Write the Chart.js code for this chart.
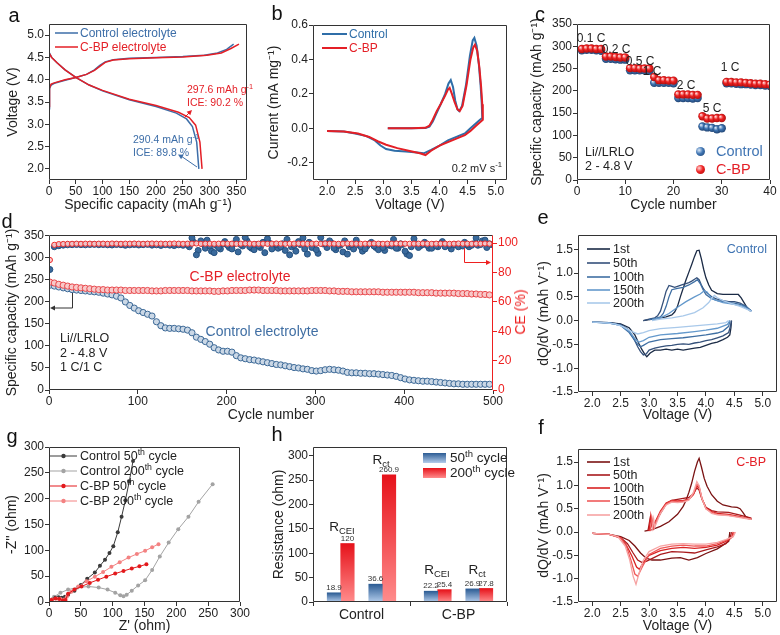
<!DOCTYPE html>
<html><head><meta charset="utf-8">
<script src="https://cdn.jsdelivr.net/npm/chart.js@4.4.1/dist/chart.umd.min.js"></script>
<style>
body{margin:0;background:#fff;}
#wrap{position:relative;width:780px;height:635px;overflow:hidden;font-family:"Liberation Sans",Arial,Helvetica,sans-serif;color:#222;background:#fff;}
#wrap canvas{position:absolute;}
.t{position:absolute;white-space:nowrap;line-height:1;}
.t sup{font-size:70%;vertical-align:0.55em;line-height:0;}
.t sub{font-size:70%;vertical-align:-0.3em;line-height:0;}
#ov{position:absolute;left:0;top:0;}
</style></head><body><div id="wrap"></div>
<script>
// ===================== DATA =====================
// (a) first charge/discharge profiles: capacity (mAh/g) vs voltage (V)
const aCtrlChX = [0,1,4,10,30,50,70,85,95,105,120,150,200,250,290,315,332,345];
const aCtrlChY = [3.35,3.8,3.88,3.92,3.99,4.05,4.12,4.22,4.32,4.4,4.45,4.48,4.5,4.52,4.55,4.6,4.68,4.8];
const aCbpChX  = [0,1,4,10,30,50,70,85,95,105,120,150,200,250,295,322,340,355];
const aCbpChY  = [3.4,3.82,3.9,3.93,4.0,4.05,4.12,4.21,4.3,4.39,4.44,4.47,4.49,4.51,4.55,4.6,4.7,4.8];
const aCtrlDisX = [0,5,15,30,50,75,100,150,200,238,257,268,276,280];
const aCtrlDisY = [4.62,4.5,4.38,4.22,4.05,3.88,3.75,3.55,3.4,3.25,3.12,2.95,2.6,2.0];
const aCbpDisX  = [0,5,15,30,50,75,100,150,200,242,262,274,282,286];
const aCbpDisY  = [4.6,4.5,4.38,4.22,4.05,3.88,3.76,3.56,3.42,3.27,3.15,2.98,2.6,2.0];
const aXTicks = [0,50,100,150,200,250,300,350];
const aYTicks = [2.0,2.5,3.0,3.5,4.0,4.5,5.0];

// (b) CV curves: voltage (V) vs current (mA/mg)
const bCtrlV = [3.08,3.5,3.75,3.82,3.88,3.95,4.02,4.1,4.16,4.2,4.24,4.28,4.32,4.35,4.4,4.47,4.54,4.59,4.62,4.66,4.7,4.73,4.75,4.76,4.72,4.65,4.55,4.45,4.3,4.15,4.0,3.85,3.72,3.6,3.4,3.2,3.05,2.95,2.85,2.7,2.5,2.3,2.0];
const bCtrlI = [0,0,0.002,0.01,0.04,0.09,0.14,0.2,0.26,0.28,0.24,0.16,0.11,0.1,0.13,0.25,0.42,0.51,0.525,0.48,0.37,0.25,0.15,0.06,0.05,0.03,0.0,-0.03,-0.05,-0.07,-0.1,-0.125,-0.145,-0.14,-0.135,-0.13,-0.12,-0.1,-0.07,-0.045,-0.03,-0.018,-0.015];
const bCbpV  = [3.08,3.5,3.75,3.82,3.88,3.95,4.02,4.1,4.15,4.18,4.22,4.27,4.32,4.36,4.41,4.48,4.55,4.6,4.63,4.67,4.71,4.74,4.76,4.77,4.72,4.65,4.55,4.45,4.3,4.15,4.0,3.85,3.75,3.65,3.45,3.25,3.05,2.9,2.75,2.55,2.3,2.0];
const bCbpI  = [0,0,0.003,0.015,0.05,0.1,0.14,0.19,0.225,0.235,0.2,0.15,0.11,0.1,0.13,0.25,0.4,0.47,0.485,0.45,0.35,0.24,0.14,0.05,0.035,0.015,-0.015,-0.04,-0.06,-0.08,-0.1,-0.13,-0.155,-0.145,-0.13,-0.115,-0.095,-0.075,-0.05,-0.03,-0.018,-0.015];
const bXTicks = [2.0,2.5,3.0,3.5,4.0,4.5,5.0];
const bYTicks = [-0.2,0.0,0.2,0.4,0.6];

// (c) rate capability, cycles 1..40 (mAh/g)
const cCtrl = [291,292,292,291,290, 272,272,271,270,270, 246,246,246,246,245, 218,218,218,218,217, 184,184,184,183,184, 120,118,117,114,116, 217,217,216,215,215,214,213,213,212,211];
const cCbp  = [294,295,295,294,294, 277,277,276,275,275, 251,251,250,250,250, 231,224,224,223,223, 192,192,192,191,191, 143,138,138,139,139, 220,220,219,219,218,217,216,216,215,214];
const cRates = ['0.1 C','0.2 C','0.5 C','1 C','2 C','5 C','1 C'];
const cXTicks = [0,10,20,30,40];
const cYTicks = [0,50,100,150,200,250,300,350];

// (d) long cycling, every 5th cycle (1, 6, 11, ... 496)
const dCtrlCap = [238,236,234,232,230,228,227,226,225,224, 223,222,220,218,216,213,209,200,192,186,
  180,176,172,168,155,146,141,140,140,139, 138,136,130,120,115,110,104,96,91,88,
  88,86,78,73,71,69,68,66,64,62, 60,58,57,55,53,51,50,48,47,44,
  43,44,46,47,46,45,43,40,39,39, 38,38,37,37,36,35,34,33,31,28,
  25,23,22,21,20,20,19,18,17,16, 15,14,14,13,13,13,13,13,13,13];
const dCbpCap = [245,243,240,238,236,234,233,232,231,230, 229,228,228,227,227,227,227,226,226,226,
  226,226,226,225,225,225,226,226,226,226, 226,226,225,225,225,225,225,224,224,225,
  225,226,226,226,226,227,227,227,226,226, 226,226,225,225,225,225,225,225,225,226,
  226,226,226,225,225,224,224,224,223,223, 223,223,223,223,223,222,222,222,222,222,
  222,222,222,221,221,221,221,220,220,220, 220,220,219,219,219,218,218,217,217,216];
const dCtrlCE = [82,97.5,98.2,98.6,98.8,98.9,99.0,98.9,98.8,99.0, 99.1,98.9,99.0,98.8,98.7,99.0,98.9,98.5,98.8,99.0,
  98.7,98.9,99.1,98.6,98.8,98.4,98.9,98.6,98.3,98.8, 98.5,
  99.0,103.5,92.0,101.5,96.5,98.0,93.5,97.0,99.5,98.5,
  96.0,102.5,99.0,103.8,97.5,95.5,98.0,100.5,103.0,96.0,
  99.0,97.5,95.0,92.0,98.5,101.0,103.5,92.5,97.0,95.5,
  103.8,99.5,101.5,96.5,98.5,94.0,92.5,99.0,102.0,97.5,
  96.0,99.5,98.0,95.5,97.0,99.0,98.0,96.5,99.5,94.5,
  91.5,103.0,97.0,99.0,98.5,96.5,98.0,99.5,97.5,98.5,
  99.0,97.5,98.0,99.0,98.5,103.5,99.0,102.0,99.5];
// extra Control CE readings in the noisy region (cycles 158, 163, ... 498)
const dCtrlCE2 = [97.5,100.5,95.0,99.5,102.0,94.5,98.5,96.0,101.0,97.0,
  99.5,94.0,98.0,101.5,96.5,99.0,97.0,93.5,100.0,98.5,
  96.5,99.5,102.5,97.5,94.5,99.0,96.0,100.5,98.0,93.0,
  99.5,97.0,100.0,95.5,98.5,101.5,97.5,96.0,99.0,94.5,
  98.0,100.5,97.0,99.0,95.0,98.5,102.5,96.5,99.0,92.5,
  97.5,99.5,98.0,100.5,96.5,99.0,97.5,101.0,98.5,96.0,
  99.0,98.0,100.5,97.5,99.5,98.5,101.5,97.0,99.0];
const dCbpCE = [88.5,98.8,99.3,99.4,99.5,99.5,99.6,99.5,99.6,99.6, 99.5,99.6,99.6,99.5,99.7,99.6,99.5,99.6,99.6,99.7,
  99.6,99.5,99.6,99.7,99.6,99.6,99.5,99.6,99.7,99.6, 99.5,99.6,99.6,99.7,99.5,99.6,99.6,99.5,99.6,99.7,
  99.6,99.6,99.5,99.6,99.7,99.6,99.5,99.6,99.6,99.5, 99.6,99.7,99.6,99.5,99.6,99.6,99.7,99.6,99.5,99.6,
  99.6,99.5,99.7,99.6,99.6,99.5,99.6,99.7,99.6,99.6, 99.5,99.6,99.6,99.7,99.6,99.5,99.6,99.6,99.7,99.6,
  99.6,99.5,99.6,99.6,99.7,99.6,99.5,99.6,99.6,99.6, 99.5,99.6,99.7,99.6,99.6,99.5,99.6,99.6,99.7,99.6];
const dXTicks = [0,100,200,300,400,500];
const dYTicks = [0,50,100,150,200,250,300,350];
const dY2Ticks = [0,20,40,60,80,100];

// (e) dQ/dV, Control (charge branch, gap, discharge branch)
const e1V = [2.9,3.0,3.1,3.2,3.3,3.4,3.45,3.5,3.55,3.6,3.65,3.7,3.75,3.8,3.84,3.88,3.92,3.96,4.0,4.05,4.1,4.2,4.3,4.4,4.5,4.57,4.62,4.67,4.72,4.78, null,
  4.45,4.44,4.42,4.38,4.3,4.2,4.1,4.0,3.9,3.8,3.7,3.6,3.5,3.4,3.3,3.2,3.1,3.02,2.96,2.92,2.87,2.82,2.75,2.65,2.5,2.3,2.0];
const e1Q = [0.0,0.02,0.03,0.06,0.08,0.12,0.18,0.3,0.5,0.68,0.86,1.02,1.18,1.35,1.47,1.48,1.3,1.08,0.9,0.75,0.64,0.57,0.55,0.55,0.55,0.55,0.48,0.38,0.28,0.2, null,
  0.0,-0.15,-0.3,-0.35,-0.4,-0.45,-0.48,-0.52,-0.56,-0.58,-0.6,-0.62,-0.6,-0.62,-0.6,-0.62,-0.62,-0.68,-0.76,-0.7,-0.6,-0.48,-0.3,-0.15,-0.07,-0.04,-0.03];
const e50V = [2.9,3.0,3.1,3.15,3.2,3.25,3.3,3.35,3.4,3.45,3.5,3.55,3.6,3.65,3.7,3.75,3.8,3.84,3.88,3.92,3.96,4.0,4.1,4.2,4.3,4.4,4.5,4.6,4.7,4.8, null,
  4.45,4.43,4.4,4.3,4.2,4.1,4.0,3.9,3.8,3.7,3.6,3.5,3.4,3.3,3.2,3.1,3.0,2.95,2.9,2.85,2.8,2.72,2.62,2.5,2.3,2.0];
const e50Q = [0.0,0.03,0.06,0.1,0.2,0.4,0.62,0.74,0.72,0.7,0.72,0.74,0.76,0.78,0.8,0.83,0.87,0.9,0.86,0.75,0.66,0.6,0.5,0.45,0.42,0.4,0.4,0.37,0.3,0.2, null,
  0.0,-0.12,-0.25,-0.32,-0.36,-0.4,-0.42,-0.45,-0.47,-0.5,-0.49,-0.5,-0.52,-0.53,-0.55,-0.58,-0.62,-0.7,-0.72,-0.65,-0.55,-0.35,-0.17,-0.08,-0.04,-0.03];
const e100V = [3.0,3.1,3.2,3.25,3.3,3.35,3.4,3.5,3.6,3.7,3.8,3.85,3.9,3.95,4.0,4.1,4.2,4.3,4.4,4.5,4.6,4.7,4.8, null,
  4.42,4.4,4.3,4.2,4.0,3.8,3.6,3.4,3.2,3.0,2.9,2.85,2.8,2.75,2.65,2.5,2.3,2.0];
const e100Q = [0.02,0.04,0.08,0.15,0.3,0.5,0.65,0.68,0.7,0.75,0.82,0.86,0.78,0.65,0.55,0.46,0.42,0.4,0.38,0.37,0.34,0.3,0.2, null,
  0.0,-0.12,-0.22,-0.26,-0.3,-0.33,-0.36,-0.38,-0.4,-0.45,-0.52,-0.55,-0.5,-0.42,-0.25,-0.1,-0.05,-0.03];
const e150V = [3.05,3.2,3.35,3.5,3.65,3.8,3.9,3.97,4.02,4.08,4.15,4.3,4.5,4.65,4.8, null,
  4.42,4.38,4.2,4.0,3.8,3.5,3.2,3.0,2.9,2.82,2.75,2.65,2.5,2.3,2.0];
const e150Q = [0.02,0.06,0.15,0.28,0.4,0.5,0.56,0.63,0.6,0.5,0.44,0.38,0.34,0.3,0.2, null,
  0.0,-0.08,-0.16,-0.2,-0.23,-0.27,-0.3,-0.35,-0.42,-0.45,-0.38,-0.22,-0.1,-0.05,-0.03];
const e200V = [3.05,3.2,3.4,3.6,3.8,3.95,4.05,4.1,4.15,4.2,4.3,4.45,4.6,4.8, null,
  4.4,4.35,4.2,4.0,3.8,3.5,3.2,3.0,2.9,2.8,2.7,2.55,2.4,2.2,2.0];
const e200Q = [0.0,0.03,0.06,0.1,0.17,0.27,0.38,0.47,0.53,0.48,0.42,0.36,0.3,0.2, null,
  0.0,-0.04,-0.07,-0.09,-0.11,-0.14,-0.17,-0.21,-0.25,-0.28,-0.23,-0.13,-0.07,-0.04,-0.03];

// (f) dQ/dV, C-BP
const f1V = [2.92,3.05,3.2,3.35,3.5,3.6,3.65,3.7,3.75,3.8,3.85,3.88,3.92,3.97,4.02,4.1,4.2,4.3,4.45,4.55,4.6,4.65,4.7,4.8, null,
  4.42,4.4,4.3,4.2,4.0,3.85,3.7,3.55,3.4,3.2,3.05,2.95,2.85,2.75,2.65,2.5,2.3,2.0];
const f1Q = [0.02,0.05,0.12,0.22,0.38,0.55,0.68,0.85,1.05,1.3,1.5,1.58,1.4,1.15,0.98,0.8,0.66,0.58,0.54,0.53,0.5,0.42,0.33,0.27, null,
  0.0,-0.2,-0.28,-0.36,-0.46,-0.55,-0.6,-0.55,-0.56,-0.6,-0.6,-0.56,-0.45,-0.3,-0.18,-0.1,-0.05,-0.03];
const f50V = [2.98,3.02,3.05,3.1,3.2,3.3,3.4,3.5,3.6,3.7,3.78,3.84,3.88,3.93,4.0,4.1,4.2,4.4,4.6,4.7,4.8, null,
  4.45,4.42,4.35,4.2,4.0,3.8,3.6,3.4,3.2,3.05,2.95,2.87,2.8,2.72,2.62,2.5,2.3,2.0];
const f50Q = [0.02,0.3,0.12,0.18,0.4,0.6,0.68,0.7,0.72,0.74,0.82,0.95,0.9,0.7,0.53,0.46,0.43,0.42,0.36,0.33,0.3, null,
  0.0,-0.15,-0.25,-0.32,-0.38,-0.45,-0.43,-0.42,-0.48,-0.57,-0.63,-0.65,-0.6,-0.45,-0.25,-0.12,-0.05,-0.03];
const f100V = [3.0,3.03,3.06,3.1,3.2,3.3,3.4,3.5,3.6,3.7,3.78,3.84,3.88,3.93,4.0,4.1,4.2,4.4,4.6,4.7,4.8, null,
  4.48,4.45,4.35,4.2,4.0,3.8,3.6,3.4,3.2,3.0,2.9,2.83,2.78,2.7,2.6,2.5,2.3,2.0];
const f100Q = [0.02,0.35,0.1,0.2,0.45,0.62,0.68,0.67,0.68,0.7,0.8,0.98,0.95,0.72,0.52,0.44,0.4,0.38,0.33,0.3,0.28, null,
  0.0,-0.12,-0.2,-0.28,-0.33,-0.35,-0.33,-0.35,-0.4,-0.5,-0.65,-0.8,-0.75,-0.52,-0.28,-0.12,-0.05,-0.03];
const f150V = [3.02,3.05,3.08,3.12,3.2,3.3,3.4,3.5,3.6,3.7,3.78,3.84,3.88,3.93,4.0,4.1,4.2,4.4,4.6,4.7,4.8, null,
  4.5,4.47,4.35,4.2,4.0,3.8,3.6,3.4,3.2,3.0,2.88,2.8,2.75,2.68,2.6,2.5,2.3,2.0];
const f150Q = [0.02,0.3,0.08,0.22,0.42,0.6,0.66,0.65,0.66,0.7,0.82,1.02,0.98,0.72,0.5,0.42,0.38,0.36,0.32,0.3,0.27, null,
  0.0,-0.1,-0.18,-0.25,-0.3,-0.3,-0.28,-0.3,-0.35,-0.48,-0.75,-0.95,-0.9,-0.6,-0.3,-0.13,-0.05,-0.03];
const f200V = [3.05,3.08,3.1,3.15,3.2,3.3,3.4,3.5,3.6,3.7,3.78,3.84,3.88,3.93,4.0,4.1,4.2,4.4,4.6,4.7,4.8, null,
  4.52,4.48,4.35,4.2,4.0,3.8,3.6,3.4,3.2,3.0,2.9,2.82,2.77,2.72,2.66,2.58,2.45,2.3,2.0];
const f200Q = [0.02,0.28,0.1,0.25,0.4,0.58,0.64,0.63,0.64,0.68,0.85,1.08,1.0,0.72,0.5,0.4,0.37,0.35,0.31,0.29,0.27, null,
  0.0,-0.1,-0.16,-0.22,-0.26,-0.26,-0.25,-0.26,-0.3,-0.42,-0.6,-0.9,-1.12,-0.95,-0.6,-0.3,-0.1,-0.05,-0.03];
const efXTicks = [2.0,2.5,3.0,3.5,4.0,4.5,5.0];
const efYTicks = [-1.5,-1.0,-0.5,0.0,0.5,1.0,1.5];
const cycleNames = ['1st','50th','100th','150th','200th'];

// (g) Nyquist plots (ohm)
const gC50X  = [1,5,10,15,20,25,30,40,50,60,72,80,88,95,101,108,114,120,126,132];
const gC50Y  = [0,5,8,9,8,10,14,22,33,45,57,70,82,95,108,135,165,197,233,273];
const gC200X = [1,8,18,30,45,62,78,92,104,112,117,122,130,140,151,162,174,188,203,219,235,257];
const gC200Y = [1,10,18,24,28,30,28,24,18,13,11,14,22,32,42,62,88,115,141,165,194,228];
const gB50X  = [0,4,10,16,22,26,30,40,51,64,77,90,104,117,130,142,153];
const gB50Y  = [0,4,7,6,3,4,16,24,30,37,43,49,55,60,65,69,73];
const gB200X = [0,5,12,18,24,28,35,46,59,72,85,98,111,125,138,151,162,172];
const gB200Y = [1,5,7,6,5,10,20,30,40,49,58,68,77,86,93,99,106,112];
const gTicks = [0,50,100,150,200,250,300];

// (h) fitted resistances (ohm)
const hPos   = [1, 2.5, 4.5, 6];
const h50    = [18.9, 36.6, 22.2, 26.9];
const h200   = [120, 260.9, 25.4, 27.8];
const hGroupTicks  = [1.75, 5.25];
const hGroupLabels = ['Control', 'C-BP'];
const hYTicks = [0,50,100,150,200,250,300];

// ===================== RENDER =====================
const FONT = '"Liberation Sans", Arial, Helvetica, sans-serif';
Chart.defaults.font.family = FONT;
Chart.defaults.font.size = 12;
Chart.defaults.color = '#222';
Chart.defaults.animation = false;
Chart.defaults.responsive = false;
Chart.defaults.devicePixelRatio = 1;
Chart.defaults.plugins.legend.display = false;
Chart.defaults.plugins.tooltip.enabled = false;

const BLUE = '#3d6ea8', RED = '#e41f26';
const wrap = document.getElementById('wrap');

Chart.register({
  id: 'frame',
  afterDraw(ch, args, o) {
    const a = ch.chartArea, c = ch.ctx;
    const L = Math.round(a.left) + .5, R = Math.round(a.right) - .5, T = Math.round(a.top) + .5, B = Math.round(a.bottom) - .5;
    c.save(); c.lineWidth = 1; c.strokeStyle = o.color || '#333';
    c.beginPath(); c.moveTo(R, T); c.lineTo(L, T); c.lineTo(L, B); c.lineTo(R, B); c.stroke();
    c.strokeStyle = o.right || o.color || '#333';
    c.beginPath(); c.moveTo(R, T); c.lineTo(R, B); c.stroke();
    c.restore();
  }
});

function pts(xs, ys) { return xs.map((x, i) => ({ x: x, y: ys[i] })); }
function idx(vals, start, step) { return vals.map((v, i) => ({ x: start + step * i, y: v })); }

function lin(o) {
  const col = o.color || '#333';
  return {
    type: 'linear', position: o.pos, min: o.min, max: o.max, bounds: 'data', offset: false,
    afterBuildTicks: s => { s.ticks = o.ticks.map(v => ({ value: v })); },
    afterFit: s => {
      if (s.isHorizontal()) s.height = o.size; else s.width = o.size;
      s.paddingLeft = s.paddingRight = s.paddingTop = s.paddingBottom = 0;
    },
    grid: { display: true, drawOnChartArea: false, drawTicks: true, tickLength: 4, color: col, tickColor: col, tickWidth: 1 },
    border: { display: false },
    ticks: { autoSkip: false, maxRotation: 0, minRotation: 0, padding: o.tpad ?? 0, color: o.color || '#222',
             font: { size: o.fsize || 12, family: FONT }, callback: o.fmt || (v => String(v)) },
    title: o.title ? { display: true, text: o.title, color: o.color || '#222', font: { size: 14, family: FONT },
             padding: { top: o.tp || 0, bottom: o.tp || 0 } } : { display: false }
  };
}

function mk(box, area, cfg, hasRight) {
  const cv = document.createElement('canvas');
  cv.width = box.w; cv.height = box.h;
  cv.style.left = box.x + 'px'; cv.style.top = box.y + 'px';
  cv.style.width = box.w + 'px'; cv.style.height = box.h + 'px';
  wrap.appendChild(cv);
  cfg.options = cfg.options || {};
  cfg.options.layout = { padding: { left: 0, top: area.t - box.y, right: hasRight ? 0 : (box.x + box.w - area.r), bottom: 0 } };
  return new Chart(cv, cfg);
}
function sizes(box, area) {
  return { yW: area.l - box.x, xH: box.y + box.h - area.b, rW: box.x + box.w - area.r };
}
const f1 = v => v.toFixed(1);

function line(data, color, w) {
  return { data: data, showLine: true, borderColor: color, backgroundColor: color, borderWidth: w || 1.5, pointRadius: 0, tension: 0, spanGaps: false };
}

// ---------- (a) ----------
{
  const box = { x: 0, y: 0, w: 258, h: 214 }, area = { l: 49, t: 24, r: 247, b: 180 }, s = sizes(box, area);
  mk(box, area, {
    type: 'scatter',
    data: { datasets: [
      line(pts(aCbpChX, aCbpChY), RED), line(pts(aCbpDisX, aCbpDisY), RED),
      line(pts(aCtrlChX, aCtrlChY), BLUE), line(pts(aCtrlDisX, aCtrlDisY), BLUE)
    ] },
    options: { scales: {
      x: lin({ pos: 'bottom', min: 0, max: 370, ticks: aXTicks, size: s.xH, title: 'Specific capacity (mAh g⁻¹)', tp: 0.6 }),
      y: lin({ pos: 'left', min: 1.75, max: 5.25, ticks: aYTicks, size: s.yW, fmt: f1, title: 'Voltage (V)', tp: 4.6, tpad: 1 })
    } }
  });
}
// ---------- (b) ----------
{
  const box = { x: 262, y: 0, w: 258, h: 214 }, area = { l: 313, t: 25, r: 507, b: 180 }, s = sizes(box, area);
  mk(box, area, {
    type: 'scatter',
    data: { datasets: [ line(pts(bCbpV, bCbpI), RED, 2), line(pts(bCtrlV, bCtrlI), '#2f6ea8', 2) ] },
    options: { scales: {
      x: lin({ pos: 'bottom', min: 1.75, max: 5.2, ticks: bXTicks, size: s.xH, fmt: f1, title: 'Voltage (V)', tp: 0.6 }),
      y: lin({ pos: 'left', min: -0.3, max: 0.6, ticks: bYTicks, size: s.yW, fmt: f1, title: 'Current (mA mg⁻¹)', tp: 4.1, tpad: 1 })
    } }
  });
}
// ---------- (c) ----------
function sphere(c, light, mid, dark) {
  const ch = c.chart;
  if (c.type !== 'data' || !ch.chartArea || !c.parsed) return mid;
  const x = ch.scales.x.getPixelForValue(c.parsed.x), y = ch.scales.y.getPixelForValue(c.parsed.y);
  if (!isFinite(x) || !isFinite(y)) return mid;
  const g = ch.ctx.createRadialGradient(x - 1.6, y - 1.6, 0.3, x, y, 4.6);
  g.addColorStop(0, light); g.addColorStop(0.45, mid); g.addColorStop(1, dark);
  return g;
}
{
  const box = { x: 522, y: 0, w: 258, h: 214 }, area = { l: 577, t: 24, r: 770, b: 180 }, s = sizes(box, area);
  mk(box, area, {
    type: 'scatter',
    data: { datasets: [
      { data: idx(cCbp, 1, 1), pointRadius: 4.2, pointBorderWidth: 0, pointBackgroundColor: c => sphere(c, '#ffd6d6', '#ee2222', '#a80c0c') },
      { data: idx(cCtrl, 1, 1), pointRadius: 4.2, pointBorderWidth: 0, pointBackgroundColor: c => sphere(c, '#dbe8f6', '#3f75b3', '#1c3e6c') }
    ] },
    options: { scales: {
      x: lin({ pos: 'bottom', min: 0, max: 40, ticks: cXTicks, size: s.xH, title: 'Cycle number', tp: 0.6 }),
      y: lin({ pos: 'left', min: 0, max: 350, ticks: cYTicks, size: s.yW, title: 'Specific capacity (mAh g⁻¹)', tp: 7, tpad: 1 })
    } }
  });
}
// ---------- (d) ----------
{
  const box = { x: 0, y: 212, w: 530, h: 212 }, area = { l: 49, t: 235, r: 493, b: 390 }, s = sizes(box, area);
  const ctrlCEStyle = { yAxisID: 'y2', pointRadius: 3, pointBorderWidth: 1, pointBorderColor: '#24507f', pointBackgroundColor: '#3a6a9c' };
  mk(box, area, {
    type: 'scatter',
    data: { datasets: [
      { data: idx(dCbpCE, 1, 5), yAxisID: 'y2', pointRadius: 2.6, pointBorderWidth: 1, pointBorderColor: '#ea2a2a', pointBackgroundColor: 'rgba(255,205,205,0.9)' },
      Object.assign({ data: idx(dCtrlCE, 1, 5) }, ctrlCEStyle),
      Object.assign({ data: idx(dCtrlCE2, 158, 5) }, ctrlCEStyle),
      { data: idx(dCbpCap, 1, 5), yAxisID: 'y', pointRadius: 3.1, pointBorderWidth: 1, pointBorderColor: '#e8474b', pointBackgroundColor: '#f8c9c9' },
      { data: idx(dCtrlCap, 1, 5), yAxisID: 'y', pointRadius: 3.1, pointBorderWidth: 1, pointBorderColor: '#3b6896', pointBackgroundColor: '#cbd8e6' }
    ] },
    options: {
      plugins: { frame: { right: '#ee2020' } },
      scales: {
        x: lin({ pos: 'bottom', min: 0, max: 500, ticks: dXTicks, size: s.xH, title: 'Cycle number', tp: 0.6 }),
        y: lin({ pos: 'left', min: 0, max: 352, ticks: dYTicks, size: s.yW, title: 'Specific capacity (mAh g⁻¹)', tp: 4.1, tpad: 1 }),
        y2: lin({ pos: 'right', min: 0, max: 105.5, ticks: dY2Ticks, size: s.rW, color: '#ee2020', tpad: 1 })
      }
    }
  }, true);
}
// ---------- (e) & (f) ----------
function dqdv(box, area, sets, colors) {
  const s = sizes(box, area);
  mk(box, area, {
    type: 'scatter',
    data: { datasets: sets.map((d, i) => line(pts(d[0], d[1]), colors[i], 1.3)).reverse() },
    options: { scales: {
      x: lin({ pos: 'bottom', min: 1.75, max: 5.25, ticks: efXTicks, size: s.xH, fmt: f1, title: 'Voltage (V)', tp: 0.3 }),
      y: lin({ pos: 'left', min: -1.5, max: area.ymax, ticks: efYTicks, size: s.yW, fmt: f1, title: 'dQ/dV (mAh V⁻¹)', tp: 5.6, tpad: 1 })
    } }
  });
}
const eColors = ['#1b2b46', '#34507a', '#3f6fa3', '#6499cc', '#a9c9ea'];
const fColors = ['#7a1212', '#a8191c', '#d92323', '#ef5a5a', '#f6a3a3'];
dqdv({ x: 530, y: 212, w: 250, h: 212 }, { l: 578, t: 235, r: 777, b: 392, ymax: 1.8 },
  [[e1V, e1Q], [e50V, e50Q], [e100V, e100Q], [e150V, e150Q], [e200V, e200Q]], eColors);
dqdv({ x: 530, y: 425, w: 250, h: 210 }, { l: 578, t: 449, r: 777, b: 602, ymax: 1.78 },
  [[f1V, f1Q], [f50V, f50Q], [f100V, f100Q], [f150V, f150Q], [f200V, f200Q]], fColors);

// ---------- (g) ----------
function nyq(data, color) {
  return { data: data, showLine: true, borderColor: color, backgroundColor: color, borderWidth: 1,
           pointRadius: 2, pointBorderWidth: 0, pointBackgroundColor: color, tension: 0 };
}
const gColors = ['#3a3a3a', '#a3a3a3', '#e3191c', '#f38282'];
{
  const box = { x: 0, y: 425, w: 262, h: 210 }, area = { l: 49, t: 447, r: 240, b: 602 }, s = sizes(box, area);
  mk(box, area, {
    type: 'scatter',
    data: { datasets: [
      nyq(pts(gB50X, gB50Y), gColors[2]), nyq(pts(gB200X, gB200Y), gColors[3]),
      nyq(pts(gC50X, gC50Y), gColors[0]), nyq(pts(gC200X, gC200Y), gColors[1])
    ] },
    options: { scales: {
      x: lin({ pos: 'bottom', min: 0, max: 300, ticks: gTicks, size: s.xH, title: "Z' (ohm)", tp: 0 }),
      y: lin({ pos: 'left', min: 0, max: 300, ticks: gTicks, size: s.yW, title: "-Z'' (ohm)", tp: 4.1, tpad: 1 })
    } }
  });
}
// ---------- (h) ----------
function barGrad(c, top, bot) {
  const ch = c.chart;
  if (c.type !== 'data' || !ch.chartArea || !c.parsed) return top;
  const y = ch.scales.y, yt = y.getPixelForValue(c.parsed.y), yb = y.getPixelForValue(0);
  if (!isFinite(yt) || !isFinite(yb) || yt === yb) return top;
  const g = ch.ctx.createLinearGradient(0, yt, 0, yb);
  g.addColorStop(0, top); g.addColorStop(1, bot);
  return g;
}
const valueLabels = {
  id: 'vals',
  afterDatasetsDraw(ch) {
    const c = ch.ctx; c.save(); c.font = '8px ' + FONT; c.fillStyle = '#333'; c.textAlign = 'center'; c.textBaseline = 'bottom';
    ch.data.datasets.forEach((ds, di) => {
      ch.getDatasetMeta(di).data.forEach((el, i) => { c.fillText(String(ds.data[i].y), el.x, el.y - 1); });
    });
    c.restore();
  }
};
{
  const box = { x: 262, y: 425, w: 258, h: 210 }, area = { l: 313, t: 447, r: 507, b: 602 }, s = sizes(box, area);
  mk(box, area, {
    type: 'bar',
    data: { datasets: [
      { data: pts(hPos, h50), barThickness: 13.5, borderWidth: 0, backgroundColor: c => barGrad(c, '#2c5c94', '#b3cceb') },
      { data: pts(hPos, h200), barThickness: 13.5, borderWidth: 0, backgroundColor: c => barGrad(c, '#e6121a', '#ff8c8c') }
    ] },
    options: { scales: {
      x: lin({ pos: 'bottom', min: 0, max: 7, ticks: hGroupTicks, size: s.xH, tpad: 1, fsize: 14,
               fmt: v => hGroupLabels[hGroupTicks.indexOf(v)] || '' }),
      y: lin({ pos: 'left', min: 0, max: 318, ticks: hYTicks, size: s.yW, title: 'Resistance (ohm)', tp: 8.6, tpad: 1 })
    } },
    plugins: [valueLabels]
  });
}

// ===================== TEXT & DECORATION =====================
function T(x, y, html, o) {
  o = o || {};
  const d = document.createElement('div'); d.className = 't'; d.innerHTML = html;
  const st = d.style; st.left = x + 'px'; st.top = y + 'px'; st.fontSize = (o.size || 12) + 'px'; st.color = o.color || '#222';
  const tx = o.align === 'c' ? '-50%' : o.align === 'r' ? '-100%' : '0';
  st.transform = 'translate(' + tx + ',-50%)' + (o.rot ? ' rotate(' + o.rot + 'deg)' : '');
  wrap.appendChild(d);
}
// panel letters
[['a', 14, 15], ['b', 277, 13], ['c', 540, 14], ['d', 7, 221], ['e', 543, 217], ['g', 12, 436], ['h', 277, 434], ['f', 541, 427]]
  .forEach(p => T(p[1], p[2], p[0], { size: 20, align: 'c', color: '#111' }));

// (a)
T(80, 33, 'Control electrolyte', { color: BLUE });
T(80, 47, 'C-BP electrolyte', { color: RED });
T(187, 89, '297.6 mAh g<sup>-1</sup>', { size: 10.5, color: RED });
T(187, 102, 'ICE: 90.2 %', { size: 10.5, color: RED });
T(133, 139, '290.4 mAh g<sup>-1</sup>', { size: 10.5, color: BLUE });
T(133, 152, 'ICE: 89.8 %', { size: 10.5, color: BLUE });
// (b)
T(349, 34, 'Control', { color: '#2f6ea8' });
T(349, 48, 'C-BP', { color: RED });
T(502, 168, '0.2 mV s<sup>-1</sup>', { size: 11, align: 'r' });
// (c)
const cRatePos = [[591, 38], [616, 49], [640, 61], [652, 71], [686, 85], [712, 108], [730, 67]];
cRates.forEach((r, i) => T(cRatePos[i][0], cRatePos[i][1], r, { size: 12, align: 'c' }));
T(585, 152, 'Li//LRLO', { size: 12.5 });
T(585, 166, '2 - 4.8 V', { size: 12.5 });
T(716, 151, 'Control', { size: 14.5, color: '#3f74b3' });
T(716, 169, 'C-BP', { size: 14.5, color: RED });
function ball(x, y, l, m, d) {
  const b = document.createElement('div');
  b.style.cssText = 'position:absolute;left:' + (x - 4.5) + 'px;top:' + (y - 4.5) + 'px;width:9px;height:9px;border-radius:50%;background:radial-gradient(circle at 35% 35%,' + l + ' 0%,' + m + ' 45%,' + d + ' 100%);';
  wrap.appendChild(b);
}
ball(700, 151, '#dbe8f6', '#3f75b3', '#1c3e6c');
ball(700, 169, '#ffd6d6', '#ee2222', '#a80c0c');
// (d)
T(240, 276, 'C-BP electrolyte', { size: 14, color: RED, align: 'c' });
T(262, 331, 'Control electrolyte', { size: 14, color: '#3f6ea3', align: 'c' });
T(60, 338, 'Li//LRLO', { size: 12.5 });
T(60, 353, '2 - 4.8 V', { size: 12.5 });
T(60, 367, '1 C/1 C', { size: 12.5 });
T(520, 312, 'CE (%)', { size: 14, color: '#ee2020', align: 'c', rot: -90 });
// (e) (f)
cycleNames.forEach((n, i) => {
  T(613, [249, 263, 277, 290, 303][i], n, { size: 12.5 });
  T(613, [462, 475, 488, 501, 515][i], n, { size: 12.5 });
});
T(767, 249, 'Control', { size: 12.5, color: '#3f74b3', align: 'r' });
T(766, 462, 'C-BP', { size: 12.5, color: RED, align: 'r' });
// (g)
const gLeg = ['Control 50<sup>th</sup> cycle', 'Control 200<sup>th</sup> cycle', 'C-BP 50<sup>th</sup> cycle', 'C-BP 200<sup>th</sup> cycle'];
const gLegY = [456, 471, 486, 501];
gLeg.forEach((t, i) => T(80, gLegY[i], t, { size: 12.5 }));
// (h)
T(450, 458, '50<sup>th</sup> cycle', { size: 13.5 });
T(450, 473, '200<sup>th</sup> cycle', { size: 13.5 });
T(342, 527, 'R<sub>CEI</sub>', { size: 13.5, align: 'c' });
T(381, 460, 'R<sub>ct</sub>', { size: 13.5, align: 'c' });
T(437, 570, 'R<sub>CEI</sub>', { size: 13.5, align: 'c' });
T(477, 570, 'R<sub>ct</sub>', { size: 13.5, align: 'c' });
function swatch(x, y, w, h, top, bot) {
  const b = document.createElement('div');
  b.style.cssText = 'position:absolute;left:' + x + 'px;top:' + y + 'px;width:' + w + 'px;height:' + h + 'px;background:linear-gradient(' + top + ',' + bot + ');';
  wrap.appendChild(b);
}
swatch(423, 453, 23, 10, '#2c5c94', '#b3cceb');
swatch(423, 468, 23, 10, '#e6121a', '#ff8c8c');

// SVG overlay: legend strokes and arrows
let svg = '<svg id="ov" width="780" height="635" xmlns="http://www.w3.org/2000/svg">';
function ln(x1, y1, x2, y2, c, w) { svg += '<line x1="' + x1 + '" y1="' + y1 + '" x2="' + x2 + '" y2="' + y2 + '" stroke="' + c + '" stroke-width="' + (w || 1.5) + '"/>'; }
function head(x, y, ang, c) {
  const L = 5, W = 2.6, ca = Math.cos(ang), sa = Math.sin(ang);
  const bx = x - L * ca, by = y - L * sa;
  svg += '<polygon points="' + x + ',' + y + ' ' + (bx - W * sa) + ',' + (by + W * ca) + ' ' + (bx + W * sa) + ',' + (by - W * ca) + '" fill="' + c + '"/>';
}
// (a) legend + arrows
ln(55, 33, 78, 33, BLUE); ln(55, 47, 78, 47, RED);
ln(184, 118, 191, 111, RED, 1); head(192, 110, Math.atan2(-8, 8), RED);
ln(197, 167, 181, 156, BLUE, 1); head(178, 154.5, Math.atan2(-11, -20), BLUE);
// (b) legend
ln(322, 34, 347, 34, '#2f6ea8', 2); ln(322, 48, 347, 48, RED, 2);
// (d) arrows
svg += '<polyline points="72.5,293 72.5,308 54,308" fill="none" stroke="#333" stroke-width="1"/>'; head(50, 308, Math.PI, '#333');
svg += '<polyline points="464.5,248 464.5,262.5 487,262.5" fill="none" stroke="#ee2020" stroke-width="1"/>'; head(491, 262.5, 0, '#ee2020');
// (e) (f) legends
[249, 263, 277, 290, 303].forEach((y, i) => ln(587, y, 610, y, eColors[i], 1.6));
[462, 475, 488, 501, 515].forEach((y, i) => ln(587, y, 610, y, fColors[i], 1.6));
// (g) legend
gLegY.forEach((y, i) => {
  const c = gColors[i];
  ln(50, y, 77, y, c, 1);
  svg += '<circle cx="63.5" cy="' + y + '" r="2.2" fill="' + c + '"/>';
});
svg += '</svg>';
wrap.insertAdjacentHTML('beforeend', svg);
</script></body></html>
